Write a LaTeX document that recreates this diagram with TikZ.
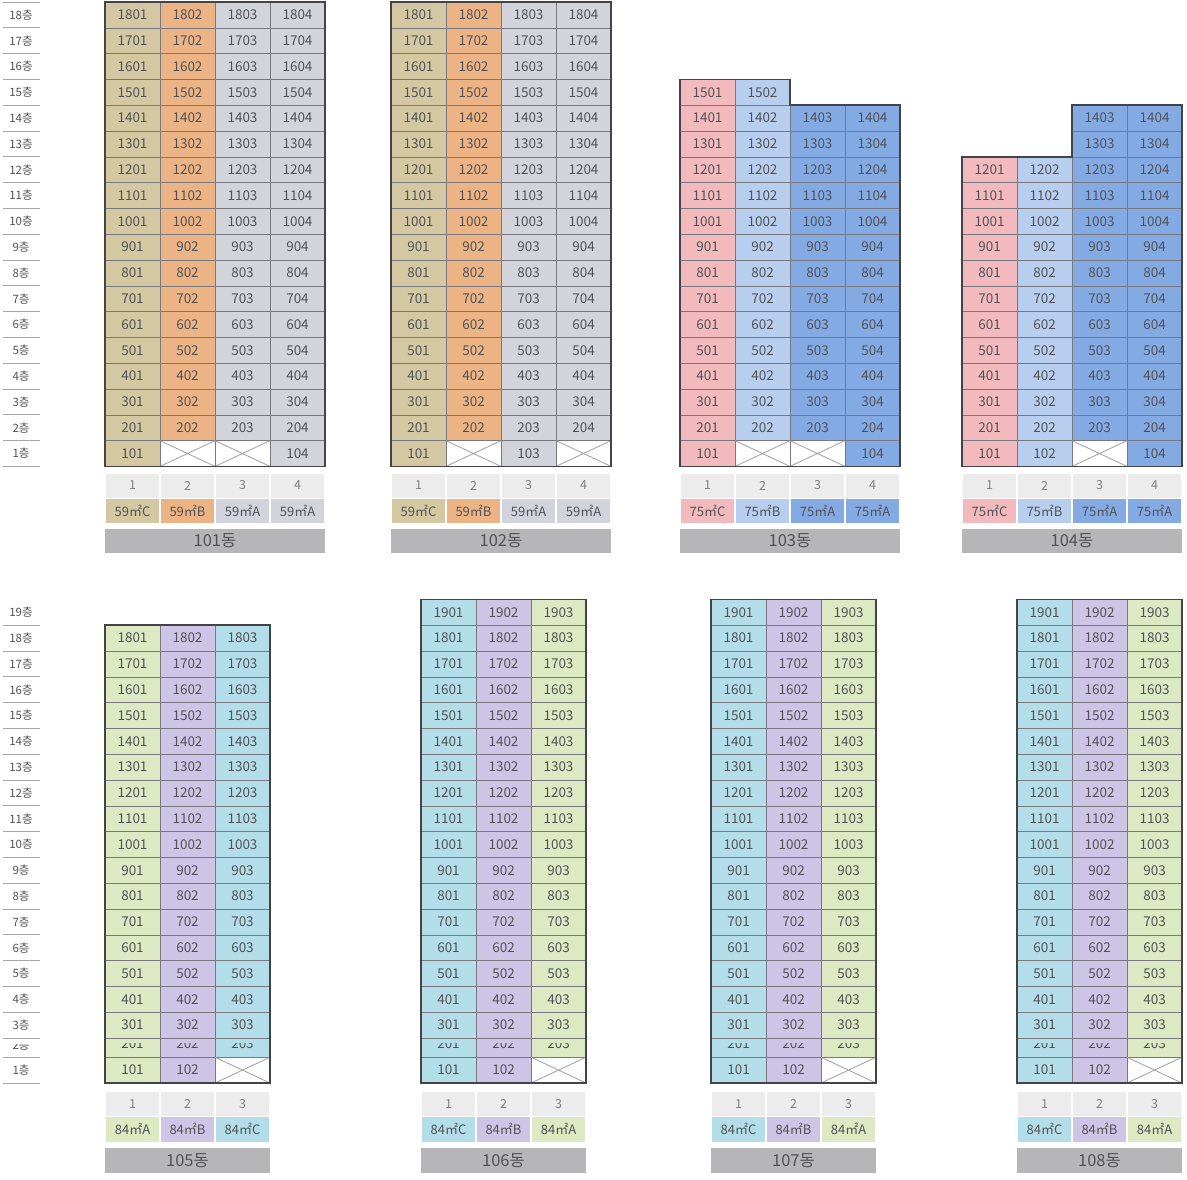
\documentclass[tikz,border=0pt]{standalone}
\usepackage{fontspec}
\setmainfont{Noto Sans CJK KR}

\definecolor{c59c}{RGB}{211,200,161}
\definecolor{c59b}{RGB}{236,180,132}
\definecolor{c59a}{RGB}{209,212,219}
\definecolor{c75c}{RGB}{242,186,188}
\definecolor{c75b}{RGB}{183,206,238}
\definecolor{c75a}{RGB}{132,170,228}
\definecolor{c84a}{RGB}{220,233,194}
\definecolor{c84b}{RGB}{206,196,229}
\definecolor{c84c}{RGB}{178,221,233}
\definecolor{numgray}{RGB}{236,236,237}
\definecolor{bargray}{RGB}{182,182,184}
\definecolor{inkgray}{RGB}{82,82,86}
\definecolor{framegray}{RGB}{68,68,72}
\definecolor{linegray}{RGB}{120,120,126}

% one flat: name, x, ytop, fill, number
\newcommand{\aptcell}[5]{%
  \draw[gridline,fill=#4] (#2,#3) rectangle ++(55,25.8);
  \node[unitlabel] (#1) at ({#2+27.5},{#3+12.9}) {#5};}
% crossed out flat: name, x, ytop
\newcommand{\voidcell}[3]{%
  \draw[gridline,fill=white] (#2,#3) rectangle ++(55,25.8);
  \draw[crossline] (#2,#3) -- ++(55,25.8) (#2,{#3+25.8}) -- ++(55,-25.8);
  \coordinate (#1) at ({#2+27.5},{#3+12.9});}
% 2nd floor row of the lower towers, half hidden
\newcommand{\cutcell}[4]{%
  \draw[gridline,fill=#3] (#2,1038) rectangle ++(55,19);
  \begin{scope}
    \clip (#2,1043) rectangle ++(55,14);
    \node[unitlabel] (#1) at ({#2+27.5},1043.5) {#4};
  \end{scope}}
% upper towers: tower, x0, list col/colour/top floor
\newcommand{\uppertower}[3]{%
  \foreach \c/\col/\tp in {#3}{
    \pgfmathsetmacro\xl{#2+(\c-1)*55}
    \foreach \f in {2,...,\tp}{
      \pgfmathsetmacro\yt{2+(18-\f)*25.8}
      \aptcell{b#1-\f0\c}{\xl}{\yt}{\col}{\f0\c}
    }}}
% lower towers: tower, x0, list col/colour/top floor
\newcommand{\lowertower}[3]{%
  \foreach \c/\col/\tp in {#3}{
    \pgfmathsetmacro\xl{#2+(\c-1)*55}
    \foreach \f in {3,...,\tp}{
      \pgfmathsetmacro\yt{1038-(\f-2)*25.8}
      \aptcell{b#1-\f0\c}{\xl}{\yt}{\col}{\f0\c}
    }
    \cutcell{b#1-20\c}{\xl}{\col}{20\c}
  }}
% legend under a tower: tower, x0, ytop, list col/colour/type
\newcommand{\typelegend}[4]{%
  \foreach \c/\col/\lab in {#4}{
    \pgfmathsetmacro\xl{#2+(\c-1)*55}
    \fill[numgray] ({\xl+1},#3) rectangle ++(53,24);
    \node[numlabel] (n#1-\c) at ({\xl+27.5},{#3+12}) {\c};
    \fill[\col] ({\xl+1},{#3+25}) rectangle ++(53,24.5);
    \node[typelabel] (t#1-\c) at ({\xl+27.5},{#3+37.2}) {\lab};
  }}

\begin{document}
\begin{tikzpicture}[x=1pt,y=1pt,yscale=-1,
  gridline/.style={draw=linegray,line width=0.6pt},
  frame/.style={draw=framegray,line width=1.8pt},
  crossline/.style={draw=gray!75,line width=0.8pt},
  unitlabel/.style={inner sep=0pt,text=inkgray,font=\fontsize{13.5}{13.5}\selectfont},
  floorlabel/.style={inner sep=0pt,text=inkgray,font=\fontsize{11.5}{11.5}\selectfont},
  floorrule/.style={draw=gray!70,line width=0.8pt},
  numlabel/.style={inner sep=0pt,text=gray,font=\fontsize{12.5}{12.5}\selectfont},
  typelabel/.style={inner sep=0pt,text=inkgray,font=\fontsize{13}{13}\selectfont},
  barlabel/.style={inner sep=0pt,text=inkgray,font=\fontsize{16.5}{16.5}\selectfont}]
\useasboundingbox (0,0) rectangle (1187,1179);

% floor scale, upper half
\draw[floorrule] (3,2) -- (40,2);
\foreach \f in {1,...,18}{
  \pgfmathsetmacro\yt{2+(18-\f)*25.8}
  \node[floorlabel] (fu-\f) at (21,{\yt+12.9}) {\f{}층};
  \draw[floorrule] (3,{\yt+25.8}) -- (40,{\yt+25.8});
}

% 101
\uppertower{101}{105}{1/c59c/18,2/c59b/18,3/c59a/18,4/c59a/18}
\aptcell{b101-101}{105}{440.6}{c59c}{101}
\voidcell{b101-102}{160}{440.6}
\voidcell{b101-103}{215}{440.6}
\aptcell{b101-104}{270}{440.6}{c59a}{104}
\draw[frame] (105,2) rectangle (325,466.4);

% 102
\uppertower{102}{391}{1/c59c/18,2/c59b/18,3/c59a/18,4/c59a/18}
\aptcell{b102-101}{391}{440.6}{c59c}{101}
\voidcell{b102-102}{446}{440.6}
\aptcell{b102-103}{501}{440.6}{c59a}{103}
\voidcell{b102-104}{556}{440.6}
\draw[frame] (391,2) rectangle (611,466.4);

% 103
\uppertower{103}{680}{1/c75c/15,2/c75b/15,3/c75a/14,4/c75a/14}
\aptcell{b103-101}{680}{440.6}{c75c}{101}
\voidcell{b103-102}{735}{440.6}
\voidcell{b103-103}{790}{440.6}
\aptcell{b103-104}{845}{440.6}{c75a}{104}
\draw[frame] (680,466.4) -- (680,79.4) -- (790,79.4) -- (790,105.2) -- (900,105.2) -- (900,466.4) -- cycle;

% 104
\uppertower{104}{962}{1/c75c/12,2/c75b/12,3/c75a/14,4/c75a/14}
\aptcell{b104-101}{962}{440.6}{c75c}{101}
\aptcell{b104-102}{1017}{440.6}{c75b}{102}
\voidcell{b104-103}{1072}{440.6}
\aptcell{b104-104}{1127}{440.6}{c75a}{104}
\draw[frame] (962,466.4) -- (962,156.8) -- (1072,156.8) -- (1072,105.2) -- (1182,105.2) -- (1182,466.4) -- cycle;

% legends, upper half
\typelegend{101}{105}{473.5}{1/c59c/59㎡C,2/c59b/59㎡B,3/c59a/59㎡A,4/c59a/59㎡A}
\typelegend{102}{391}{473.5}{1/c59c/59㎡C,2/c59b/59㎡B,3/c59a/59㎡A,4/c59a/59㎡A}
\typelegend{103}{680}{473.5}{1/c75c/75㎡C,2/c75b/75㎡B,3/c75a/75㎡A,4/c75a/75㎡A}
\typelegend{104}{962}{473.5}{1/c75c/75㎡C,2/c75b/75㎡B,3/c75a/75㎡A,4/c75a/75㎡A}
\fill[bargray] (105,528.5) rectangle (325,552.5);
\node[barlabel] (d101) at (215,540.5) {101동};
\fill[bargray] (391,528.5) rectangle (611,552.5);
\node[barlabel] (d102) at (501,540.5) {102동};
\fill[bargray] (680,528.5) rectangle (900,552.5);
\node[barlabel] (d103) at (790,540.5) {103동};
\fill[bargray] (962,528.5) rectangle (1182,552.5);
\node[barlabel] (d104) at (1072,540.5) {104동};

% floor scale, lower half
\foreach \f in {3,...,19}{
  \pgfmathsetmacro\yt{1038-(\f-2)*25.8}
  \node[floorlabel] (fl-\f) at (21,{\yt+12.9}) {\f{}층};
  \draw[floorrule] (3,{\yt+25.8}) -- (40,{\yt+25.8});
}
\begin{scope}
  \clip (0,1044) rectangle (60,1057);
  \node[floorlabel] (fl-2) at (21,1045) {2층};
\end{scope}
\draw[floorrule] (3,1057) -- (40,1057);
\node[floorlabel] (fl-1) at (21,1070) {1층};
\draw[floorrule] (3,1083) -- (40,1083);

% 105
\lowertower{105}{105}{1/c84a/18,2/c84b/18,3/c84c/18}
\aptcell{b105-101}{105}{1057.2}{c84a}{101}
\aptcell{b105-102}{160}{1057.2}{c84b}{102}
\voidcell{b105-103}{215}{1057.2}
\draw[frame] (105,625.2) rectangle (270,1083);

% 106
\lowertower{106}{421}{1/c84c/19,2/c84b/19,3/c84a/19}
\aptcell{b106-101}{421}{1057.2}{c84c}{101}
\aptcell{b106-102}{476}{1057.2}{c84b}{102}
\voidcell{b106-103}{531}{1057.2}
\draw[frame] (421,599.4) rectangle (586,1083);

% 107
\lowertower{107}{711}{1/c84c/19,2/c84b/19,3/c84a/19}
\aptcell{b107-101}{711}{1057.2}{c84c}{101}
\aptcell{b107-102}{766}{1057.2}{c84b}{102}
\voidcell{b107-103}{821}{1057.2}
\draw[frame] (711,599.4) rectangle (876,1083);

% 108
\lowertower{108}{1017}{1/c84c/19,2/c84b/19,3/c84a/19}
\aptcell{b108-101}{1017}{1057.2}{c84c}{101}
\aptcell{b108-102}{1072}{1057.2}{c84b}{102}
\voidcell{b108-103}{1127}{1057.2}
\draw[frame] (1017,599.4) rectangle (1182,1083);

% legends, lower half
\typelegend{105}{105}{1092}{1/c84a/84㎡A,2/c84b/84㎡B,3/c84c/84㎡C}
\typelegend{106}{421}{1092}{1/c84c/84㎡C,2/c84b/84㎡B,3/c84a/84㎡A}
\typelegend{107}{711}{1092}{1/c84c/84㎡C,2/c84b/84㎡B,3/c84a/84㎡A}
\typelegend{108}{1017}{1092}{1/c84c/84㎡C,2/c84b/84㎡B,3/c84a/84㎡A}
\fill[bargray] (105,1148) rectangle (270,1172.5);
\node[barlabel] (d105) at (187.5,1160.2) {105동};
\fill[bargray] (421,1148) rectangle (586,1172.5);
\node[barlabel] (d106) at (503.5,1160.2) {106동};
\fill[bargray] (711,1148) rectangle (876,1172.5);
\node[barlabel] (d107) at (793.5,1160.2) {107동};
\fill[bargray] (1017,1148) rectangle (1182,1172.5);
\node[barlabel] (d108) at (1099.5,1160.2) {108동};
\end{tikzpicture}
\end{document}
